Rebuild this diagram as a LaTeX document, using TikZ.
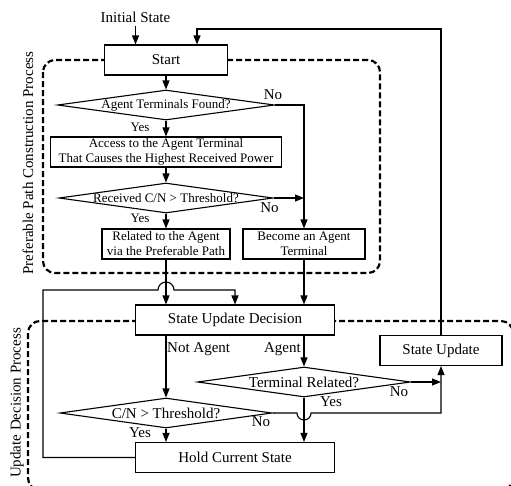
\documentclass[tikz,border=0pt]{standalone}
\usepackage{fontspec}
\setmainfont{Liberation Serif}
\usetikzlibrary{arrows.meta,calc,shapes.geometric,positioning}

\begin{document}
\begin{tikzpicture}[x=1pt,y=-1pt,font=\fontsize{15}{17}\selectfont]

    \tikzset{
      blk/.style={
        draw,
        fill=white,
        line width=1.1pt,
        inner sep=0pt,
        minimum height=30pt,
        align=center,
      },
      dec/.style={
        draw,
        fill=white,
        diamond,
        line width=1.1pt,
        inner sep=0pt,
        minimum height=30pt,
      },
      grp/.style={
        line width=2.2pt,
        dash pattern=on 6pt off 3pt,
        rounded corners=12pt,
      },
      lnk/.style={
        line width=1.1pt,
        -{Triangle[length=9pt,width=7pt]},
      },
      sml/.style={font=\fontsize{13}{15}\selectfont},
    }
    \useasboundingbox (0,0) rectangle (511,485);
    \clip (0,0) rectangle (511,485);
	\draw [grp] (43,60) rectangle (380,273);
	\draw [grp] (28,321) rectangle (513,490);
	\node [rotate=90] (ppcp) at (28,163) {Preferable Path Construction Process};
	\node [rotate=90] (udp) at (17,403) {Update Decision Process};

	\node (init) at (135.5,17) {Initial State};
	\node [blk, minimum width=123pt] (start) at (166,60) {Start};
	\node [dec, minimum width=217pt, label={[sml]center:Agent Terminals Found?}] (q1) at (166,105) {};
	\node [blk, sml, minimum width=231pt] (access) at (166,152) {Access to the Agent Terminal\\That Causes the Highest Received Power};
	\node [dec, minimum width=214pt, label={[sml]center:Received C/N > Threshold?}] (q2) at (166,198) {};
	\node [blk, sml, minimum width=128pt] (related) at (166,244) {Related to the Agent\\via the Preferable Path};
	\node [blk, sml, minimum width=122pt] (become) at (304,244) {Become an Agent\\Terminal};
	\node [blk, minimum width=199pt] (sud) at (235,320) {State Update Decision};
	\node [blk, minimum width=122pt] (su) at (441,350.5) {State Update};
	\node [dec, minimum width=213pt, label={center:Terminal Related?}] (q4) at (304,382) {};
	\node [dec, minimum width=212pt, label={center:C/N > Threshold?}] (q3) at (166,413) {};
	\node [blk, minimum width=199pt] (hold) at (235,457.5) {Hold Current State};

	\node [sml] (y1) at (140,127.5) {Yes};
	\node (n1) at (273,95) {No};
	\node (n2) at (269.5,208) {No};
	\node [sml] (y2) at (140,218) {Yes};
	\node [anchor=west, inner sep=1pt] (na) at (166,349) {Not Agent};
	\node [anchor=east, inner sep=1pt] (ag) at (302,349) {Agent};
	\node (n4) at (399,392) {No};
	\node (y4) at (331,402) {Yes};
	\node (n3) at (261,422) {No};
	\node (y3) at (140,433) {Yes};

	\coordinate (fb) at (197,29);
	\coordinate (lp) at (43,290);
	\draw [lnk] (init) -- (init |- start.north);
	\draw [lnk] (su.north) |- (fb) -- (fb |- start.north);
	\draw [lnk] (start.south) -- (q1.north);
	\draw [lnk] (q1.south) -- (access.north);
	\draw [lnk] (q1.east) -| (become.north);
	\draw [lnk] (access.south) -- (q2.north);
	\draw [lnk] (q2.east) -- (q2.east -| become.north);
	\draw [lnk] (q2.south) -- (related.north);
	\draw [lnk] (related.south) -- (related.south |- sud.north);
	\draw [lnk] (become.south) -- (become.south |- sud.north);
	\draw [lnk] (hold.west) -| (lp) -- ([xshift=-8pt]lp -| related.south) arc (180:360:8) -| (sud.north);
	\draw [lnk] (sud.south -| q3.north) -- (q3.north);
	\draw [lnk] (sud.south -| q4.north) -- (q4.north);
	\draw [lnk] (q4.east) -- (q4.east -| su.south);
	\draw [lnk] (q4.south) -- (q4.south |- hold.north);
	\draw [lnk] (q3.south) -- (q3.south |- hold.north);
	\draw [lnk] (q3.east) -- ([xshift=-7pt]q3.east -| q4.south) arc (180:0:7) -| (su.south);

\end{tikzpicture}
\end{document}
